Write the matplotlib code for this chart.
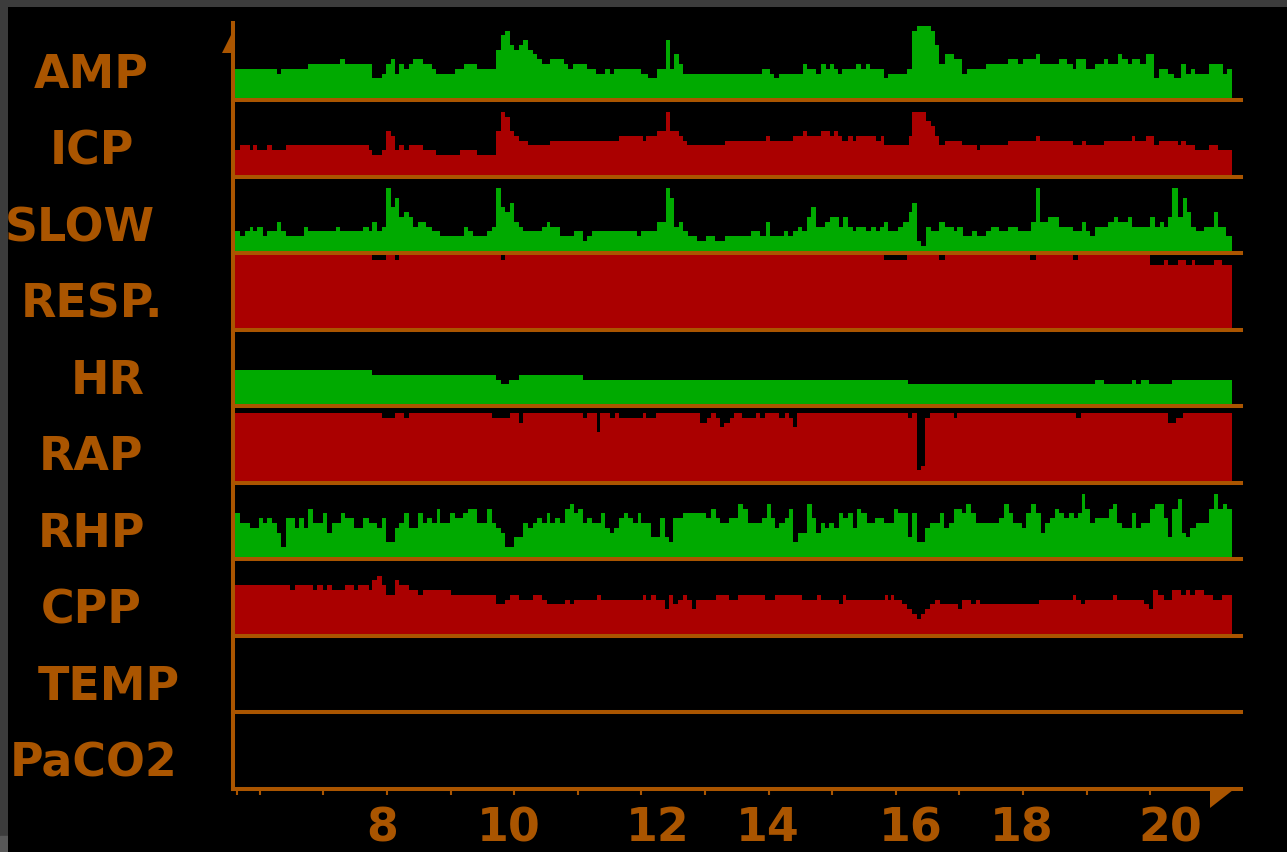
import matplotlib.pyplot as plt
from matplotlib.patches import Rectangle, Polygon

W, H = 1287, 852
ORANGE = '#aa5500'
GREEN = '#00aa00'
RED = '#aa0000'
FONT = dict(family='DejaVu Sans', weight='bold', color=ORANGE)

# trend values: (start hour, level) steps, level 0..15 per strip
amp = [(5.61, 6), (6.27, 5), (6.34, 6), (6.76, 7), (7.26, 8), (7.34, 7), (7.77, 4), (7.92, 5), (7.98, 7), (8.06, 8),
       (8.13, 5), (8.19, 7), (8.27, 6), (8.34, 7), (8.41, 8), (8.56, 7), (8.70, 6), (8.77, 5), (9.07, 6), (9.21, 7),
       (9.42, 6), (9.71, 10), (9.79, 13), (9.86, 14), (9.93, 11), (10.00, 10), (10.08, 11), (10.14, 12), (10.22, 10), (10.29, 9),
       (10.36, 8), (10.43, 7), (10.57, 8), (10.78, 7), (10.85, 6), (10.92, 7), (11.15, 6), (11.29, 5), (11.43, 6), (11.50, 5),
       (11.57, 6), (12.00, 5), (12.10, 4), (12.24, 6), (12.38, 12), (12.45, 6), (12.51, 9), (12.59, 7), (12.66, 5), (13.89, 6),
       (14.02, 5), (14.09, 4), (14.17, 5), (14.54, 7), (14.61, 6), (14.74, 5), (14.83, 7), (14.90, 6), (14.96, 7), (15.03, 6),
       (15.09, 5), (15.16, 6), (15.38, 7), (15.45, 6), (15.53, 7), (15.60, 6), (15.82, 4), (15.88, 5), (16.18, 6), (16.26, 14),
       (16.33, 15), (16.55, 14), (16.62, 11), (16.68, 7), (16.77, 9), (16.91, 8), (17.04, 5), (17.12, 6), (17.42, 7), (17.77, 8),
       (17.92, 7), (18.00, 8), (18.21, 9), (18.26, 7), (18.56, 8), (18.69, 7), (18.78, 6), (18.84, 8), (18.99, 6), (19.13, 7),
       (19.28, 8), (19.34, 7), (19.49, 9), (19.56, 8), (19.65, 7), (19.71, 8), (19.84, 7), (19.93, 9), (20.06, 4), (20.14, 6),
       (20.28, 5), (20.38, 4), (20.49, 7), (20.56, 5), (20.64, 6), (20.70, 5), (20.93, 7), (21.14, 5), (21.20, 6)]

icp = [(5.61, 5), (5.69, 6), (5.84, 5), (5.90, 6), (5.96, 5), (6.11, 6), (6.19, 5), (6.41, 6), (7.71, 5), (7.77, 4),
       (7.92, 5), (7.98, 9), (8.06, 8), (8.13, 5), (8.19, 6), (8.27, 5), (8.34, 6), (8.56, 5), (8.77, 4), (9.14, 5),
       (9.42, 4), (9.71, 9), (9.79, 13), (9.86, 12), (9.93, 9), (10.00, 8), (10.08, 7), (10.22, 6), (10.57, 7), (11.65, 8),
       (12.02, 7), (12.08, 8), (12.24, 9), (12.38, 13), (12.45, 9), (12.59, 8), (12.66, 7), (12.72, 6), (13.31, 7), (13.96, 8),
       (14.02, 7), (14.39, 8), (14.54, 9), (14.61, 8), (14.83, 9), (14.96, 8), (15.03, 9), (15.09, 8), (15.16, 7), (15.25, 8),
       (15.32, 7), (15.38, 8), (15.69, 7), (15.77, 8), (15.82, 6), (16.20, 8), (16.26, 13), (16.47, 11), (16.55, 10), (16.62, 8),
       (16.68, 6), (16.77, 7), (17.04, 6), (17.27, 5), (17.33, 6), (17.77, 7), (18.21, 8), (18.26, 7), (18.78, 6), (18.92, 7),
       (18.99, 6), (19.28, 7), (19.71, 8), (19.76, 7), (19.93, 8), (20.06, 6), (20.14, 7), (20.43, 6), (20.49, 7), (20.56, 6),
       (20.70, 5), (20.93, 6), (21.06, 5)]

slow = [(5.61, 4), (5.69, 3), (5.77, 4), (5.84, 5), (5.90, 4), (5.96, 5), (6.05, 3), (6.11, 4), (6.27, 6), (6.33, 4),
        (6.41, 3), (6.70, 5), (6.76, 4), (7.20, 5), (7.26, 4), (7.63, 5), (7.71, 4), (7.77, 6), (7.84, 4), (7.92, 5),
        (7.98, 13), (8.06, 9), (8.13, 11), (8.19, 7), (8.27, 8), (8.34, 7), (8.41, 5), (8.49, 6), (8.62, 5), (8.70, 4),
        (8.84, 3), (9.21, 5), (9.28, 4), (9.35, 3), (9.57, 4), (9.65, 5), (9.71, 13), (9.79, 9), (9.86, 8), (9.93, 10),
        (10.00, 6), (10.08, 5), (10.14, 4), (10.43, 5), (10.51, 6), (10.57, 5), (10.72, 3), (10.94, 4), (11.08, 2), (11.15, 3),
        (11.22, 4), (11.93, 3), (12.00, 4), (12.24, 6), (12.38, 13), (12.45, 11), (12.51, 5), (12.59, 6), (12.66, 4), (12.74, 3),
        (12.87, 2), (13.02, 3), (13.16, 2), (13.31, 3), (13.73, 4), (13.87, 3), (13.96, 6), (14.02, 3), (14.24, 4), (14.31, 3),
        (14.39, 4), (14.46, 5), (14.53, 4), (14.61, 7), (14.67, 9), (14.74, 5), (14.88, 6), (14.96, 7), (15.11, 5), (15.17, 7),
        (15.25, 5), (15.32, 4), (15.38, 5), (15.53, 4), (15.61, 5), (15.69, 4), (15.75, 5), (15.82, 6), (15.88, 4), (16.03, 5),
        (16.11, 6), (16.20, 8), (16.26, 10), (16.33, 2), (16.39, 1), (16.47, 5), (16.55, 4), (16.68, 6), (16.77, 5), (16.91, 4),
        (16.97, 5), (17.05, 3), (17.20, 4), (17.27, 3), (17.42, 4), (17.49, 5), (17.62, 4), (17.77, 5), (17.92, 4), (18.13, 6),
        (18.21, 13), (18.26, 6), (18.40, 7), (18.56, 5), (18.78, 4), (18.92, 6), (18.99, 4), (19.06, 3), (19.13, 5), (19.34, 6),
        (19.43, 7), (19.50, 6), (19.65, 7), (19.71, 5), (19.99, 7), (20.08, 5), (20.15, 6), (20.22, 5), (20.28, 7), (20.35, 13),
        (20.43, 7), (20.51, 11), (20.58, 8), (20.64, 5), (20.72, 4), (20.85, 5), (21.00, 8), (21.06, 5), (21.19, 3)]

resp = [(5.61, 15), (7.77, 14), (7.98, 15), (8.13, 14), (8.19, 15), (9.79, 14), (9.86, 15), (15.82, 14), (16.18, 15), (16.68, 14),
        (16.77, 15), (18.11, 14), (18.20, 15), (18.78, 14), (18.86, 15), (19.99, 13), (20.22, 14), (20.28, 13), (20.43, 14), (20.56, 13),
        (20.66, 14), (20.70, 13), (21.00, 14), (21.13, 13)]

hr = [(5.61, 7), (7.76, 6), (9.71, 5), (9.79, 4), (9.92, 5), (10.08, 6), (11.08, 5), (16.19, 4), (19.13, 5), (19.27, 4),
      (19.72, 5), (19.78, 4), (19.86, 5), (19.98, 4), (20.35, 5)]

rap = [(5.61, 14), (7.92, 13), (8.13, 14), (8.26, 13), (8.35, 14), (9.65, 13), (9.93, 14), (10.07, 12), (10.14, 14), (11.08, 13),
       (11.15, 14), (11.30, 10), (11.35, 14), (11.51, 13), (11.59, 14), (11.65, 13), (12.03, 14), (12.08, 13), (12.23, 14), (12.92, 12),
       (13.03, 13), (13.10, 14), (13.17, 13), (13.24, 11), (13.30, 12), (13.39, 13), (13.45, 14), (13.58, 13), (13.80, 14), (13.87, 13),
       (13.95, 14), (14.17, 13), (14.25, 14), (14.32, 13), (14.38, 11), (14.45, 14), (16.19, 13), (16.25, 14), (16.34, 2), (16.39, 3),
       (16.46, 13), (16.54, 14), (16.91, 13), (16.97, 14), (18.84, 13), (18.91, 14), (20.28, 12), (20.40, 13), (20.51, 14)]

rhp = [(5.61, 9), (5.69, 7), (5.84, 6), (5.98, 8), (6.05, 7), (6.11, 8), (6.19, 7), (6.27, 5), (6.33, 2), (6.41, 8),
       (6.55, 6), (6.62, 8), (6.70, 6), (6.76, 10), (6.84, 7), (6.99, 9), (7.05, 5), (7.13, 7), (7.27, 9), (7.34, 8),
       (7.48, 6), (7.63, 8), (7.71, 7), (7.84, 6), (7.92, 8), (7.98, 3), (8.13, 6), (8.19, 7), (8.27, 9), (8.34, 6),
       (8.49, 9), (8.56, 7), (8.63, 8), (8.70, 7), (8.78, 10), (8.84, 7), (8.99, 9), (9.07, 8), (9.20, 9), (9.28, 10),
       (9.42, 7), (9.57, 10), (9.65, 7), (9.71, 6), (9.79, 5), (9.86, 2), (10.00, 4), (10.14, 7), (10.22, 6), (10.29, 7),
       (10.36, 8), (10.43, 7), (10.51, 9), (10.57, 7), (10.64, 8), (10.72, 7), (10.80, 10), (10.87, 11), (10.94, 9), (11.01, 10),
       (11.08, 7), (11.15, 8), (11.22, 7), (11.36, 9), (11.43, 6), (11.50, 5), (11.57, 6), (11.65, 8), (11.72, 9), (11.79, 8),
       (11.86, 7), (11.94, 9), (12.00, 7), (12.15, 4), (12.29, 8), (12.37, 4), (12.44, 3), (12.50, 8), (12.66, 9), (13.01, 8),
       (13.10, 10), (13.17, 8), (13.24, 7), (13.38, 8), (13.52, 11), (13.60, 10), (13.67, 7), (13.89, 8), (13.97, 11), (14.04, 8),
       (14.10, 6), (14.17, 7), (14.25, 8), (14.32, 10), (14.38, 3), (14.46, 5), (14.60, 11), (14.68, 8), (14.75, 5), (14.82, 7),
       (14.89, 6), (14.95, 7), (15.03, 6), (15.10, 9), (15.17, 8), (15.25, 9), (15.32, 6), (15.39, 10), (15.46, 9), (15.54, 7),
       (15.68, 8), (15.82, 7), (15.97, 10), (16.04, 9), (16.19, 4), (16.26, 9), (16.34, 3), (16.46, 6), (16.54, 7), (16.69, 9),
       (16.76, 6), (16.84, 7), (16.91, 10), (17.04, 9), (17.11, 11), (17.19, 9), (17.26, 7), (17.63, 8), (17.70, 11), (17.78, 9),
       (17.85, 7), (17.98, 6), (18.05, 9), (18.13, 11), (18.21, 9), (18.28, 5), (18.35, 7), (18.42, 8), (18.50, 10), (18.57, 9),
       (18.64, 8), (18.72, 9), (18.80, 8), (18.87, 9), (18.92, 13), (18.98, 10), (19.05, 7), (19.13, 8), (19.35, 10), (19.42, 11),
       (19.48, 7), (19.56, 6), (19.72, 9), (19.78, 6), (19.85, 7), (19.99, 10), (20.07, 11), (20.21, 8), (20.28, 4), (20.35, 10),
       (20.43, 12), (20.50, 5), (20.56, 4), (20.63, 6), (20.72, 7), (20.93, 10), (21.00, 13), (21.07, 10), (21.15, 11), (21.21, 10)]

cpp = [(5.61, 10), (6.48, 9), (6.55, 10), (6.84, 9), (6.90, 10), (6.99, 9), (7.05, 10), (7.13, 9), (7.34, 10), (7.48, 9),
       (7.55, 10), (7.71, 9), (7.77, 11), (7.84, 12), (7.92, 10), (7.98, 8), (8.13, 11), (8.19, 10), (8.34, 9), (8.49, 8),
       (8.56, 9), (9.00, 8), (9.71, 6), (9.86, 7), (9.93, 8), (10.07, 7), (10.29, 8), (10.43, 7), (10.51, 6), (10.80, 7),
       (10.87, 6), (10.94, 7), (11.30, 8), (11.36, 7), (12.03, 8), (12.08, 7), (12.15, 8), (12.23, 7), (12.37, 5), (12.44, 8),
       (12.50, 6), (12.58, 7), (12.66, 8), (12.72, 7), (12.79, 5), (12.86, 7), (13.17, 8), (13.38, 7), (13.52, 8), (13.95, 7),
       (14.10, 8), (14.52, 7), (14.76, 8), (14.82, 7), (15.10, 6), (15.17, 8), (15.22, 7), (15.83, 8), (15.88, 7), (15.92, 8),
       (15.97, 7), (16.10, 6), (16.17, 5), (16.25, 4), (16.34, 3), (16.39, 4), (16.46, 5), (16.54, 6), (16.62, 7), (16.69, 6),
       (16.98, 5), (17.04, 7), (17.19, 6), (17.26, 7), (17.32, 6), (18.25, 7), (18.78, 8), (18.84, 7), (18.91, 6), (18.98, 7),
       (19.42, 8), (19.48, 7), (19.91, 6), (19.98, 5), (20.05, 9), (20.13, 8), (20.21, 7), (20.35, 9), (20.49, 8), (20.56, 9),
       (20.63, 8), (20.70, 9), (20.84, 8), (20.98, 7), (21.13, 8)]

t_end = 21.28
names = ['AMP', 'ICP', 'SLOW', 'RESP.', 'HR', 'RAP', 'RHP', 'CPP', 'TEMP', 'PaCO2']
series = [amp, icp, slow, resp, hr, rap, rhp, cpp, None, None]

tick_hours = [5.64, 6, 7, 8, 9, 10, 11, 12, 13, 14, 15, 16, 17, 18, 19, 20, 21]
hour_labels = ['8', '10', '12', '14', '16', '18', '20']
hour_label_at = [7.92, 9.92, 12.25, 13.99, 16.24, 17.98, 20.31]

# layout (pixels)
label_cx = [91, 92, 80, 92, 108, 91, 91, 91, 109, 94]
strip_h = 76.5
x0_px, x1_px = 233, 1241
px_per_hr = 63.6
ylo, yhi = -0.545, 15.49

fig = plt.figure(figsize=(W / 100, H / 100), dpi=100, facecolor='#3c3c3c')

bg = fig.add_axes([8 / W, 0, 1 - 8 / W, 1 - 7 / H])
bg.set_facecolor('black')
bg.set_zorder(-1)
bg.set_xticks([])
bg.set_yticks([])
for s in bg.spines.values():
    s.set_visible(False)
fig.add_artist(Rectangle((0, 0), 8 / W, 16 / H, transform=fig.transFigure, color='#585858', zorder=-2))

xlo = 5.61 - (235 - x0_px) / px_per_hr
xhi = 5.61 + (x1_px - 235) / px_per_hr

axes = []
for i, name in enumerate(names):
    base = 100 + strip_h * i
    ax = fig.add_axes([x0_px / W, 1 - base / H, (x1_px - x0_px) / W, strip_h / H])
    ax.set_facecolor('none')
    ax.set_xlim(xlo, xhi)
    ax.set_ylim(ylo, yhi)
    data = series[i]
    if data is not None:
        t = [p[0] for p in data] + [t_end]
        v = [p[1] for p in data]
        ax.stairs(v, t, baseline=ylo, fill=True, color=GREEN if i % 2 == 0 else RED, lw=0)
    for side in ['top', 'right']:
        ax.spines[side].set_visible(False)
    for side in ['left', 'bottom']:
        ax.spines[side].set_color(ORANGE)
        ax.spines[side].set_linewidth(2.9)
    ax.set_yticks([])
    ax.set_xticks([])
    fig.text(label_cx[i] / W, 1 - (base - 12) / H, name, ha='center', va='baseline', fontsize=33, **FONT)
    axes.append(ax)

# small arrow marks at the axis ends
fig.add_artist(Polygon([(231 / W, 1 - 35 / H), (231 / W, 1 - 53 / H), (222 / W, 1 - 53 / H)],
                       closed=True, transform=fig.transFigure, color=ORANGE, lw=0))
fig.add_artist(Polygon([(1210 / W, 1 - 790 / H), (1233 / W, 1 - 790 / H), (1210 / W, 1 - 808 / H)],
                       closed=True, transform=fig.transFigure, color=ORANGE, lw=0))

last = axes[-1]
last.set_xticks(tick_hours)
last.tick_params(axis='x', direction='out', length=4.5, width=1.5, color=ORANGE, labelbottom=False)
for lab, xh in zip(hour_labels, hour_label_at):
    last.text(xh, -(851 - 788.5) / strip_h, lab, transform=last.get_xaxis_transform(),
              ha='center', va='bottom', fontsize=33, clip_on=False, **FONT)

fig.savefig('out.png', dpi=100, facecolor=fig.get_facecolor())
